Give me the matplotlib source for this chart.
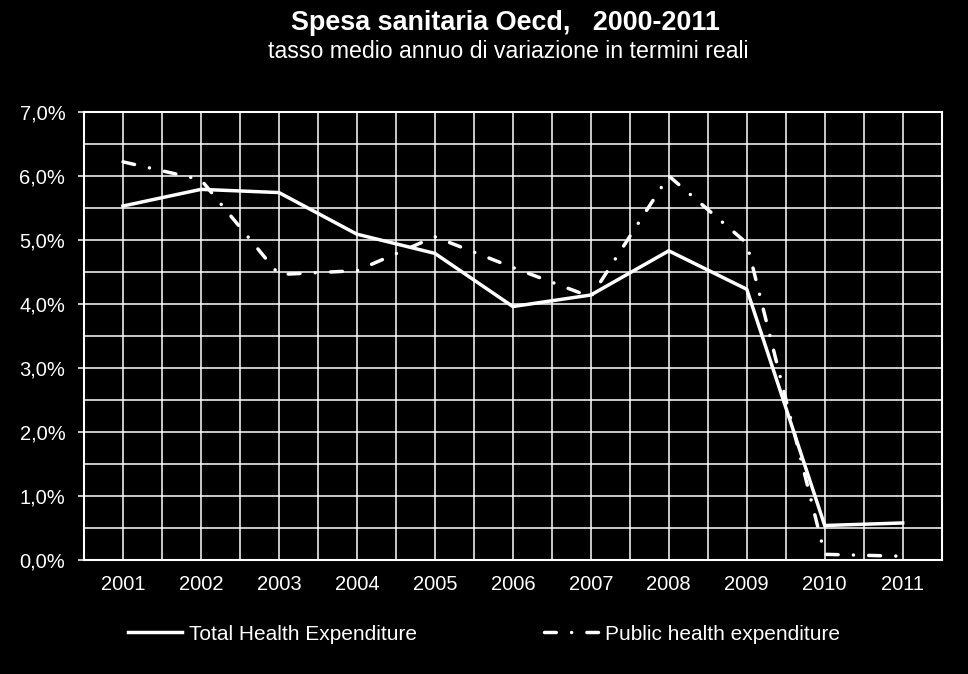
import numpy as np
import matplotlib.pyplot as plt
from matplotlib.ticker import FuncFormatter, MultipleLocator

plt.rcParams['font.family'] = ['Liberation Sans', 'DejaVu Sans']

years = ['2001', '2002', '2003', '2004', '2005', '2006', '2007', '2008', '2009', '2010', '2011']
total_health = [5.53, 5.79, 5.74, 5.09, 4.79, 3.96, 4.14, 4.83, 4.23, 0.54, 0.58]
public_health = [6.22, 5.94, 4.46, 4.52, 5.05, 4.57, 4.11, 6.00, 4.95, 0.09, 0.06]

fig = plt.figure(figsize=(9.68, 6.74), dpi=100, facecolor='black')
ax = fig.add_axes([0.0868, 0.169, 0.886, 0.665], facecolor='black')

x = np.arange(len(years))
ax.plot(x, total_health, color='white', lw=2.5, solid_joinstyle='miter',
        label='Total Health Expenditure')
ax.plot(x, public_health, color='white', lw=2.5, linestyle=(0, (3.4, 4.4, 0.01, 4.4)),
        dash_capstyle='round', label='Public health expenditure')

ax.set_xlim(-0.5, len(years) - 0.5)
ax.set_ylim(0, 7)
ax.set_xticks(x)
ax.set_xticklabels(years)
ax.yaxis.set_major_locator(MultipleLocator(1))
ax.yaxis.set_minor_locator(MultipleLocator(0.5))
ax.xaxis.set_minor_locator(MultipleLocator(0.5))
ax.yaxis.set_major_formatter(FuncFormatter(lambda v, p: f'{v:.1f}%'.replace('.', ',')))
ax.grid(True, which='both', color='white', lw=1.1)
ax.set_axisbelow(True)
ax.tick_params(which='both', colors='white', labelsize=14.5)
ax.tick_params(axis='x', which='both', length=0, pad=11)
ax.tick_params(axis='y', which='minor', length=0)
ax.tick_params(axis='y', which='major', length=4.5, width=1.1, pad=9)
for s in ax.spines.values():
    s.set_color('white')
    s.set_linewidth(1.5)

fig.text(0.522, 0.966, 'Spesa sanitaria Oecd,   2000-2011', color='white',
         fontsize=19.4, fontweight='bold', ha='center', va='center')
fig.text(0.525, 0.924, 'tasso medio annuo di variazione in termini reali', color='white',
         fontsize=16.7, ha='center', va='center')

leg = fig.legend(loc='center', bbox_to_anchor=(0.50, 0.059), ncol=2, frameon=False,
                 fontsize=15, handlelength=2.6, handletextpad=0.33, columnspacing=6.1,
                 labelcolor='white')

fig.savefig('out.png', dpi=100, facecolor='black')
